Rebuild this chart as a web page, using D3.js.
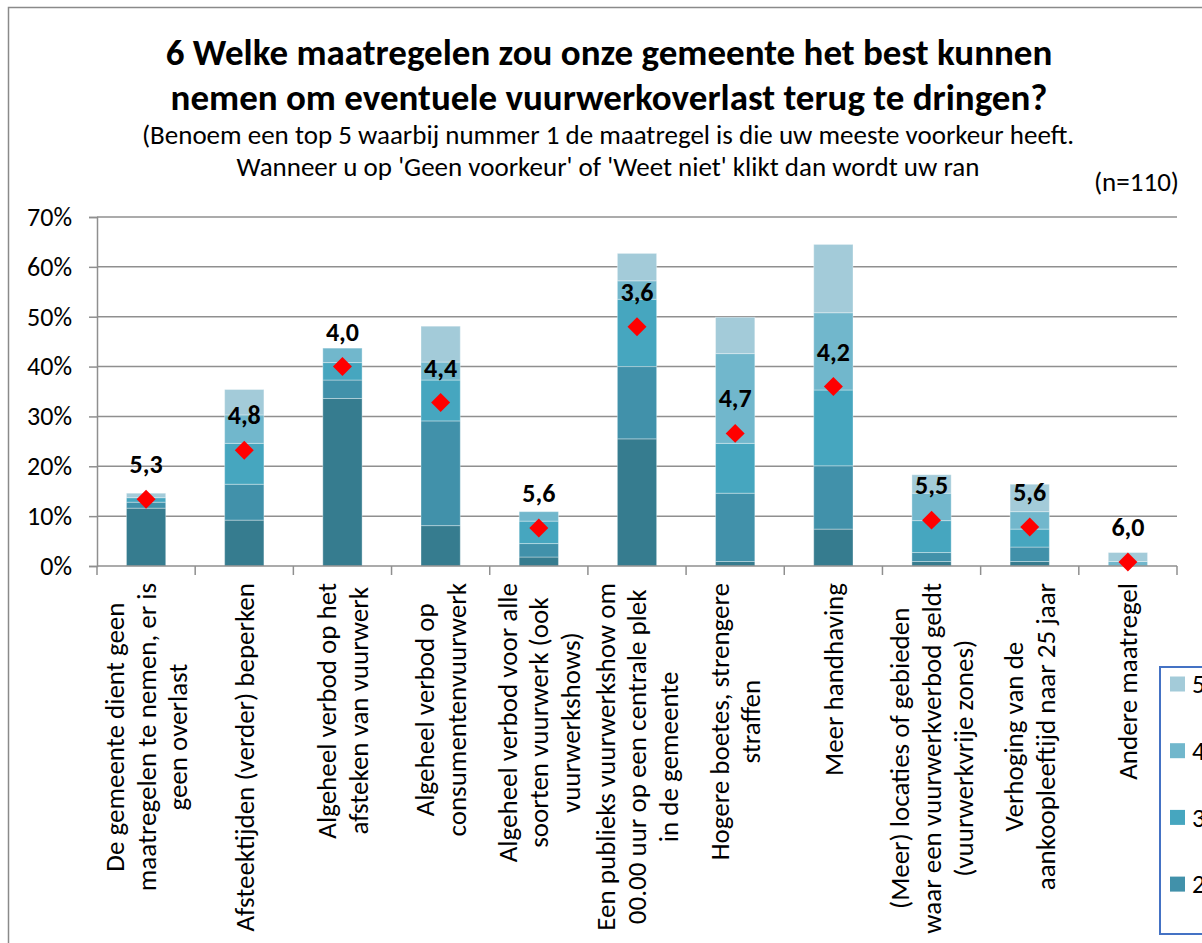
<!DOCTYPE html>
<html>
<head>
<meta charset="utf-8">
<script src="https://cdn.jsdelivr.net/npm/d3@7"></script>
<style>
  body { margin: 0; background: #fff; }
  text { font-family: Carlito, Calibri, Lato, sans-serif; fill: #000; }
</style>
</head>
<body>
<div id="root"></div>
<script>
// chart size
const width = 1202;
const height = 943;
const plot = { left: 97, right: 1177, top: 217, bottom: 566 };

// categories, one array of lines per label
const categoryLines = [
  ["De gemeente dient geen", "maatregelen te nemen, er is", "geen overlast"],
  ["Afsteektijden (verder) beperken"],
  ["Algeheel verbod op het", "afsteken van vuurwerk"],
  ["Algeheel verbod op", "consumentenvuurwerk"],
  ["Algeheel verbod voor alle", "soorten vuurwerk (ook", "vuurwerkshows)"],
  ["Een publieks vuurwerkshow om", "00.00 uur op een centrale plek", "in de gemeente"],
  ["Hogere boetes, strengere", "straffen"],
  ["Meer handhaving"],
  ["(Meer) locaties of gebieden", "waar een vuurwerkverbod geldt", "(vuurwerkvrije zones)"],
  ["Verhoging van de", "aankoopleeftijd naar 25 jaar"],
  ["Andere maatregel"]
];
const categories = categoryLines.map(d => d.join(" "));

// percentage of respondents per rank (1 = first choice)
const rank1 = [11.6, 9.2, 33.6, 8.1, 1.8, 25.5, 0.9, 7.4, 0.9, 0.9, 0];
const rank2 = [1.2, 7.2, 3.7, 21.0, 2.7, 14.5, 13.7, 12.7, 1.8, 2.9, 0];
const rank3 = [0.9, 8.2, 3.5, 8.2, 4.5, 13.5, 10.0, 15.2, 6.4, 3.6, 0];
const rank4 = [0, 5.7, 2.9, 3.6, 1.9, 3.7, 18.0, 15.5, 5.5, 3.5, 0.9];
const rank5 = [0.9, 5.1, 0, 7.2, 0, 5.5, 7.3, 13.7, 3.7, 5.5, 1.8];

// mean rank (shown as diamond + label)
const meanRank = [5.33, 4.84, 4.0, 4.36, 5.62, 3.6, 4.67, 4.2, 5.54, 5.61, 5.96];

const rankKeys = ["1", "2", "3", "4", "5"];
const rankColors = ["#367C8F", "#4191AA", "#46A6BF", "#71B7CC", "#A3CBD9"];
const yTicks = [0, 10, 20, 30, 40, 50, 60, 70];

const titleLines = [
  "6 Welke maatregelen zou onze gemeente het best kunnen",
  "nemen om eventuele vuurwerkoverlast terug te dringen?"
];
const subtitleLines = [
  "(Benoem een top 5 waarbij nummer 1 de maatregel is die uw meeste voorkeur heeft.",
  "Wanneer u op 'Geen voorkeur' of 'Weet niet' klikt dan wordt uw ran"
];
const sampleText = "(n=110)";

const rows = categories.map((c, i) => ({
  cat: c,
  "1": rank1[i], "2": rank2[i], "3": rank3[i], "4": rank4[i], "5": rank5[i],
  mean: meanRank[i]
}));

const svg = d3
  .select("#root")
  .append("svg")
  .attr("width", width)
  .attr("height", height);

// outer chart border (right and bottom fall outside the picture)
svg
  .append("rect")
  .attr("x", 8.5)
  .attr("y", 7.5)
  .attr("width", 1400)
  .attr("height", 1200)
  .attr("fill", "none")
  .attr("stroke", "#8a8a8a")
  .attr("stroke-width", 1.5);

// scales
const x = d3
  .scaleBand()
  .domain(categories)
  .range([plot.left, plot.right])
  .paddingInner(0.6)
  .paddingOuter(0.3);

const y = d3
  .scaleLinear()
  .domain([0, 70])
  .range([plot.bottom, plot.top]);

// hidden secondary axis for the mean rank
const yMean = d3
  .scaleLinear()
  .domain([6, 2.5])
  .range([plot.bottom, plot.top]);

const color = d3.scaleOrdinal().domain(rankKeys).range(rankColors);

// gridlines
svg
  .append("g")
  .attr("class", "grid")
  .selectAll("line")
  .data(yTicks.filter(d => d > 0))
  .enter()
  .append("line")
  .attr("x1", plot.left)
  .attr("x2", plot.right)
  .attr("y1", d => y(d))
  .attr("y2", d => y(d))
  .attr("stroke", "#8f8f8f")
  .attr("stroke-width", 1.5);

// y axis
const yAxis = d3
  .axisLeft(y)
  .tickValues(yTicks)
  .tickSize(8)
  .tickPadding(17)
  .tickFormat(d => d + "%");

const yAxisG = svg
  .append("g")
  .attr("class", "y-axis")
  .attr("transform", "translate(" + plot.left + ",0)")
  .call(yAxis);
yAxisG.select(".domain").attr("stroke", "#8f8f8f").attr("stroke-width", 1.5);
yAxisG.selectAll(".tick line").attr("stroke", "#8f8f8f").attr("stroke-width", 1.5);
yAxisG
  .selectAll(".tick text")
  .attr("font-family", null)
  .attr("font-size", 26)
  .attr("fill", "#000");

// stacked bars
const series = d3.stack().keys(rankKeys)(rows);

svg
  .append("g")
  .attr("class", "bars")
  .selectAll("g")
  .data(series)
  .enter()
  .append("g")
  .attr("fill", d => color(d.key))
  .selectAll("rect")
  .data(d => d)
  .enter()
  .append("rect")
  .attr("x", d => x(d.data.cat))
  .attr("width", x.bandwidth())
  .attr("y", d => y(d[1]))
  .attr("height", d => y(d[0]) - y(d[1]))
  .attr("stroke", "rgba(255,255,255,0.35)")
  .attr("stroke-width", d => (d[1] - d[0] > 0 ? 1 : 0));

// x axis line and category ticks
svg
  .append("line")
  .attr("x1", plot.left)
  .attr("x2", plot.right)
  .attr("y1", plot.bottom)
  .attr("y2", plot.bottom)
  .attr("stroke", "#8f8f8f")
  .attr("stroke-width", 1.5);

const step = x.step();
svg
  .append("g")
  .attr("class", "x-ticks")
  .selectAll("line")
  .data(d3.range(categories.length + 1))
  .enter()
  .append("line")
  .attr("x1", d => plot.left + d * step)
  .attr("x2", d => plot.left + d * step)
  .attr("y1", plot.bottom)
  .attr("y2", plot.bottom + 9)
  .attr("stroke", "#8f8f8f")
  .attr("stroke-width", 1.5);

// category labels, rotated, lines centred on each other
const lineGap = 31.7;
const labelGroups = svg
  .append("g")
  .attr("class", "x-labels")
  .selectAll("g")
  .data(rows)
  .enter()
  .append("g")
  .attr("transform", d => "translate(" + (x(d.cat) + x.bandwidth() / 2) + "," + (plot.bottom + 17) + ") rotate(-90)");

labelGroups.each(function(d, i) {
  const g = d3.select(this);
  const lines = categoryLines[i];
  const texts = lines.map((line, j) =>
    g
      .append("text")
      .attr("y", (j - (lines.length - 1) / 2) * lineGap)
      .attr("dy", "0.35em")
      .attr("text-anchor", "middle")
      .attr("font-size", 27)
      .text(line)
  );
  const longest = d3.max(texts, t => t.node().getComputedTextLength());
  texts.forEach(t => t.attr("x", -longest / 2));
});

// mean rank diamonds
const diamond = d3.symbol(d3.symbolSquare, 180);
svg
  .append("g")
  .attr("class", "means")
  .selectAll("path")
  .data(rows)
  .enter()
  .append("path")
  .attr("d", diamond)
  .attr("transform", d => "translate(" + (x(d.cat) + x.bandwidth() / 2) + "," + yMean(d.mean) + ") rotate(45)")
  .attr("fill", "#FF0000");

// mean rank labels
const meanFormat = d => d3.format(".1f")(d).replace(".", ",");
svg
  .append("g")
  .attr("class", "mean-labels")
  .selectAll("text")
  .data(rows)
  .enter()
  .append("text")
  .attr("x", d => x(d.cat) + x.bandwidth() / 2)
  .attr("y", d => yMean(d.mean) - 35)
  .attr("dy", "0.35em")
  .attr("text-anchor", "middle")
  .attr("font-size", 26)
  .attr("font-weight", "bold")
  .text(d => meanFormat(d.mean));

// titles
svg
  .append("g")
  .selectAll("text")
  .data(titleLines)
  .enter()
  .append("text")
  .attr("x", 609)
  .attr("y", (d, i) => 65 + i * 45)
  .attr("text-anchor", "middle")
  .attr("font-size", 37)
  .attr("font-weight", "bold")
  .text(d => d);

svg
  .append("g")
  .selectAll("text")
  .data(subtitleLines)
  .enter()
  .append("text")
  .attr("x", 608)
  .attr("y", (d, i) => 144 + i * 32)
  .attr("text-anchor", "middle")
  .attr("font-size", 27)
  .text(d => d);

svg
  .append("text")
  .attr("x", 1179)
  .attr("y", 191)
  .attr("text-anchor", "end")
  .attr("font-size", 27)
  .text(sampleText);

// legend (top to bottom: 5 .. 1), partly outside the picture
const legend = svg.append("g").attr("class", "legend");
legend
  .append("rect")
  .attr("x", 1160)
  .attr("y", 667)
  .attr("width", 200)
  .attr("height", 267)
  .attr("fill", "#fff")
  .attr("stroke", "#4472C4")
  .attr("stroke-width", 2);

const legendItems = legend
  .selectAll("g")
  .data(rankKeys.slice().reverse())
  .enter()
  .append("g")
  .attr("transform", (d, i) => "translate(1170," + (684 + i * 66.7) + ")");

legendItems
  .append("rect")
  .attr("x", 0)
  .attr("y", -7.5)
  .attr("width", 15)
  .attr("height", 15)
  .attr("fill", d => color(d));

legendItems
  .append("text")
  .attr("x", 22)
  .attr("dy", "0.35em")
  .attr("font-size", 26)
  .text(d => d);
</script>
</body>
</html>
